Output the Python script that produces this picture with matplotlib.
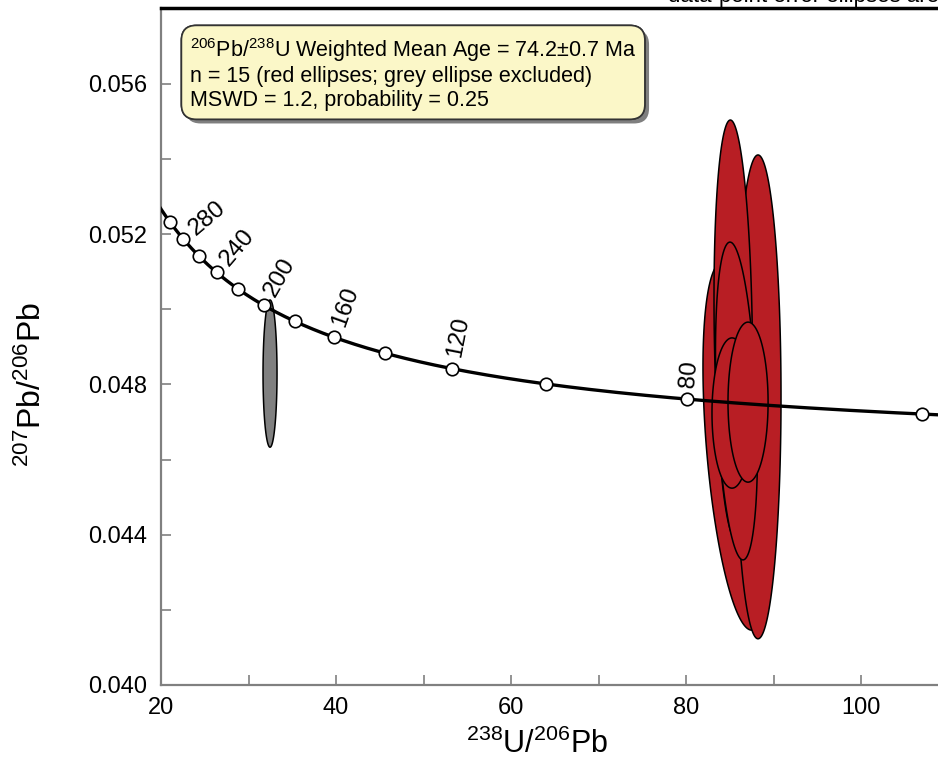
import numpy as np
import matplotlib.pyplot as plt
from matplotlib.patches import Polygon
from matplotlib.ticker import MultipleLocator, FormatStrFormatter
import matplotlib.patheffects as pe

plt.rcParams['font.family'] = ['Liberation Sans', 'DejaVu Sans']
plt.rcParams['mathtext.fontset'] = 'custom'
plt.rcParams['mathtext.rm'] = 'Liberation Sans'

# decay constants (1/yr) and 238U/235U for the Tera-Wasserburg concordia
lam238 = 1.55125e-10
lam235 = 9.8485e-10
u_ratio = 137.88

marker_ages = [60, 80, 100, 120, 140, 160, 180, 200, 220, 240, 260, 280, 300]
label_ages = [80, 120, 160, 200, 240, 280]

# red ellipses (included): 238U/206Pb, 2s, 207Pb/206Pb, 2s, rho
red_x = [88.0, 88.6, 87.8, 88.3, 88.9, 87.6, 88.2, 88.5, 87.9,
         85.83, 88.23, 85.4, 85.77, 85.26, 87.09]
red_sx = [1.7, 1.6, 1.5, 1.8, 1.4, 1.3, 1.6, 1.5, 1.2,
          3.89, 2.63, 2.2, 2.4, 2.29, 2.29]
red_y = [0.0480, 0.0470, 0.0462, 0.0490, 0.0478, 0.0485, 0.0455, 0.0498, 0.0470,
         0.04636, 0.04767, 0.04945, 0.04756, 0.04724, 0.04753]
red_sy = [0.0042, 0.0040, 0.0035, 0.0038, 0.0030, 0.0032, 0.0030, 0.0030, 0.0028,
          0.00490, 0.00644, 0.00559, 0.00423, 0.00200, 0.00213]
red_rho = [-0.1, 0.0, -0.2, 0.0, 0.1, -0.1, 0.0, 0.0, 0.0,
           -0.43, 0.0, -0.15, -0.31, 0.0, 0.0]

# grey ellipse (excluded)
grey_x, grey_sx, grey_y, grey_sy, grey_rho = 32.46, 0.8, 0.04829, 0.00196, 0.0


def ellipse_pts(x, sx, y, sy, rho):
    t = np.linspace(0, 2 * np.pi, 200)
    px = x + sx * np.cos(t)
    py = y + sy * (rho * np.cos(t) + np.sqrt(1 - rho ** 2) * np.sin(t))
    return np.column_stack([px, py])


def concordia(age_ma):
    t = np.asarray(age_ma) * 1e6
    e8 = np.exp(lam238 * t) - 1
    e5 = np.exp(lam235 * t) - 1
    return 1 / e8, e5 / e8 / u_ratio


fig = plt.figure(figsize=(9.38, 7.59), dpi=100)
ax = fig.add_axes([161 / 938, 74 / 759, 777 / 938, 677 / 759])
ax.set_xlim(20, 20 + 777 / 8.75)
ax.set_ylim(0.040, 0.040 + 677 * 2.662e-5)

ax.add_patch(Polygon(ellipse_pts(grey_x, grey_sx, grey_y, grey_sy, grey_rho),
                     closed=True, fc='#808080', ec='black', lw=1.1, zorder=1))
for i in range(len(red_x)):
    ax.add_patch(Polygon(ellipse_pts(red_x[i], red_sx[i], red_y[i], red_sy[i], red_rho[i]),
                         closed=True, fc='#B81E24', ec='black', lw=1.1, zorder=2))

ages = np.linspace(55, 340, 600)
cx, cy = concordia(ages)
ax.plot(cx, cy, color='black', lw=2.4, zorder=3)
mx, my = concordia(marker_ages)
ax.plot(mx, my, 'o', ms=9, mfc='white', mec='black', mew=1.2, zorder=4)

for a in label_ages:
    p0 = ax.transData.transform(np.column_stack(concordia([a - 1])))[0]
    p1 = ax.transData.transform(np.column_stack(concordia([a + 1])))[0]
    d = p1 - p0
    n = np.array([d[1], -d[0]])
    n = n / np.hypot(*n)
    ang = np.degrees(np.arctan2(n[1], n[0]))
    lx, ly = concordia([a])
    ax.annotate(str(a), (lx[0], ly[0]), xytext=(n[0] * 8.5, n[1] * 8.5),
                textcoords='offset points', rotation=ang, rotation_mode='anchor',
                ha='left', va='center', fontsize=17.5, zorder=5,
                bbox=dict(fc='white', ec='none', pad=0.5))

ax.xaxis.set_major_locator(MultipleLocator(20))
ax.xaxis.set_minor_locator(MultipleLocator(10))
ax.yaxis.set_major_locator(MultipleLocator(0.004))
ax.yaxis.set_minor_locator(MultipleLocator(0.002))
ax.yaxis.set_major_formatter(FormatStrFormatter('%.3f'))
ax.tick_params(which='both', direction='in', length=7, width=1.2, color='#808080',
               labelsize=17)
ax.tick_params(axis='x', pad=9)
ax.tick_params(axis='y', pad=10)

for s in ['left', 'bottom']:
    ax.spines[s].set_color('#808080')
    ax.spines[s].set_linewidth(1.6)
ax.spines['top'].set_color('black')
ax.spines['top'].set_linewidth(2.5)
ax.spines['right'].set_visible(False)

ax.set_xlabel(r'$\mathregular{^{238}U/^{206}Pb}$', fontsize=22)
ax.set_ylabel(r'$\mathregular{^{207}Pb/^{206}Pb}$', fontsize=23)
ax.xaxis.label.set_va('center')
ax.yaxis.label.set_va('center')
ax.xaxis.set_label_coords((537 - 161) / 777, -(744 - 685) / 677)
ax.yaxis.set_label_coords(-(161 - 32) / 777, (685 - 385) / 677)

txt = fig.text(190 / 938, 1 - 36 / 759,
               '$\\mathregular{^{206}Pb/^{238}U}$ Weighted Mean Age = 74.2\u00b10.7 Ma\n'
               'n = 15 (red ellipses; grey ellipse excluded)\n'
               'MSWD = 1.2, probability = 0.25',
               fontsize=15.5, va='top', ha='left', linespacing=1.15, zorder=10,
               bbox=dict(boxstyle='round,pad=0.4,rounding_size=0.7',
                         fc='#FBF7C8', ec='#333333', lw=1.2))
txt.get_bbox_patch().set_path_effects([
    pe.withSimplePatchShadow(offset=(3, -3), shadow_rgbFace='black', alpha=0.5),
    pe.Normal()])

fig.text(668 / 938, 1 - 2 / 759, 'data-point error ellipses are 2\u03c3',
         fontsize=16, ha='left', va='baseline')

fig.savefig('out.png', dpi=100)
